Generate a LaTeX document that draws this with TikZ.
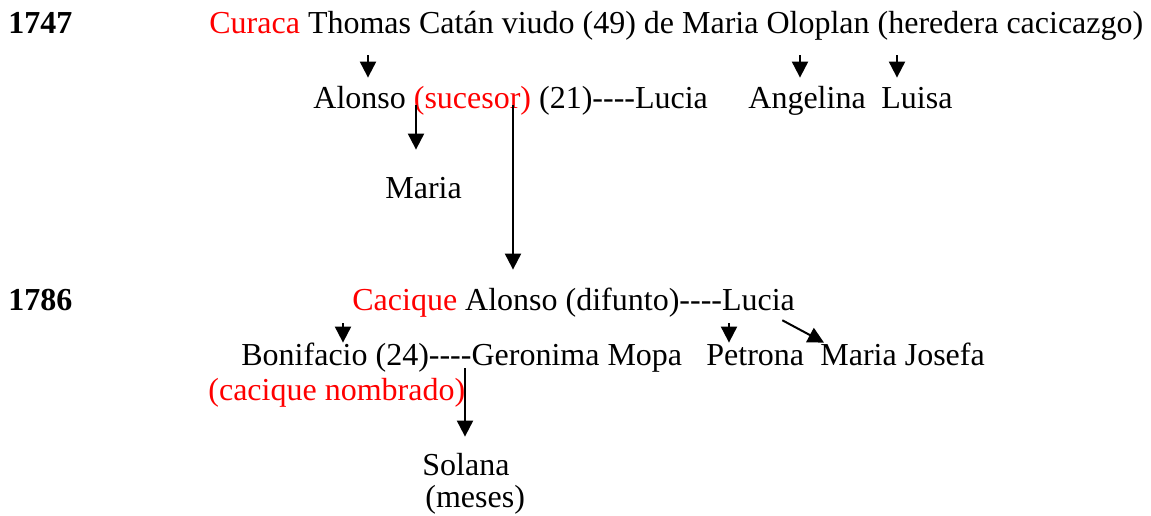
\documentclass[tikz,border=0pt]{standalone}
\usepackage{fontspec}
\setmainfont{Liberation Serif}
\usetikzlibrary{arrows.meta,positioning}

\newcommand{\guiones}{-{}-{}-{}-}

\begin{document}
\begin{tikzpicture}[x=0.5pt,y=-0.5pt,
  txt/.style={anchor=base west,inner sep=0pt,text height=11pt,text depth=3.5pt,
    font=\fontsize{16}{19}\selectfont},
  kid/.style={draw,line width=1pt,-{Triangle[width=8pt,length=8pt]}}]

\useasboundingbox (0,0) rectangle (1151,515);

% generacion 1747
\node[txt] (yr1747) at (8,33) {\textbf{1747}};
\node[txt] (thomas) at (209,33) {\textcolor{red}{Curaca} Thomas Catán viudo (49) de Maria Oloplan (heredera cacicazgo)};

\node[txt] (alonso) at (313,108) {Alonso \textcolor{red}{(sucesor)} (21)\guiones Lucia};
\node[txt] (angelina) at (748,108) {Angelina};
\node[txt] (luisa) at (881,108) {Luisa};
\node[txt] (maria) at (385,198) {Maria};

% generacion 1786
\node[txt] (yr1786) at (8,310) {\textbf{1786}};
\node[txt] (alonsoB) at (352,310) {\textcolor{red}{Cacique} Alonso (difunto)\guiones Lucia};

\node[txt] (bonifacio) at (241,365) {Bonifacio (24)\guiones Geronima Mopa};
\node[txt] (petrona) at (706,365) {Petrona};
\node[txt] (josefa) at (820,365) {Maria Josefa};
\node[txt,text=red] (nombrado) at (208,400) {(cacique nombrado)};

\node[txt] (solana) at (422,475) {Solana};
\node[txt] (meses) at (425,507) {(meses)};

% columnas de las flechas
\coordinate (c1) at (368,0);
\coordinate (c2) at (800,0);
\coordinate (c3) at (897,0);
\coordinate (c4) at (416,0);
\coordinate (c5) at (513,0);
\coordinate (c6) at (343,0);
\coordinate (c7) at (729,0);
\coordinate (c8) at (777,0);
\coordinate (c9) at (824,0);
\coordinate (c10) at (465,0);

\path[kid,shorten <=7.5pt,shorten >=4pt] (thomas.south -| c1) -- (alonso.north -| c1);
\path[kid,shorten <=7.5pt,shorten >=4pt] (thomas.south -| c2) -- (angelina.north -| c2);
\path[kid,shorten <=7.5pt,shorten >=4pt] (thomas.south -| c3) -- (luisa.north -| c3);

\path[kid,shorten <=-5pt,shorten >=13pt] (alonso.south -| c4) -- (maria.north -| c4);
\path[kid,shorten <=-5pt,shorten >=9pt] (alonso.south -| c5) -- (alonsoB.north -| c5);

\path[kid,shorten <=3pt,shorten >=0pt] (alonsoB.south -| c6) -- (bonifacio.north -| c6);
\path[kid,shorten <=3pt,shorten >=0pt] (alonsoB.south -| c7) -- (petrona.north -| c7);
\path[kid,shorten <=3pt,shorten >=0pt] (alonsoB.south -| c8) -- (josefa.north -| c9);

\path[kid,shorten <=-2pt,shorten >=8pt] (bonifacio.south -| c10) -- (solana.north -| c10);

\end{tikzpicture}
\end{document}
